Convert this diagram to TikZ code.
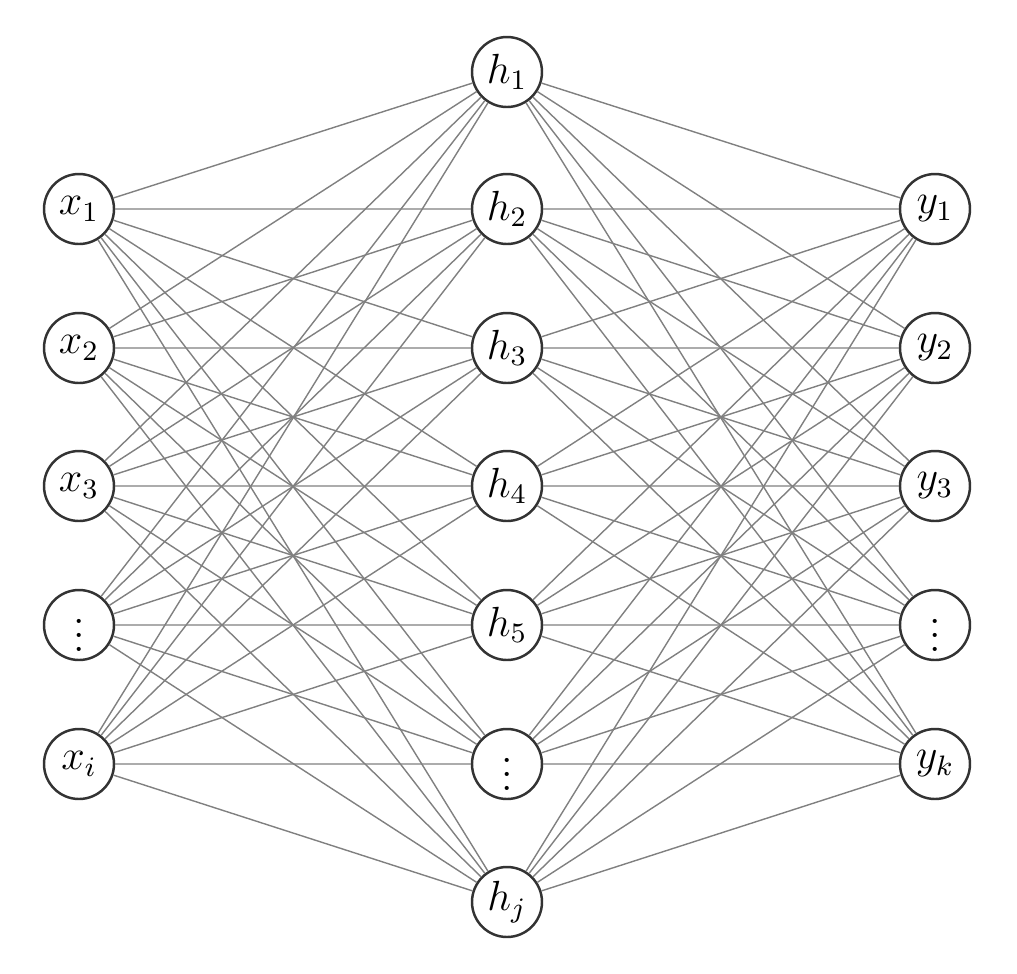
\documentclass[tikz,border=0pt]{standalone}
\tikzset{
  neuron/.style={circle, fill=white, draw=black!80, line width=0.7pt, minimum size=7mm, inner sep=0pt, font=\large},
  link/.style={draw=black!50, line width=0.4pt}
}
\begin{document}
\begin{tikzpicture}[x=0.1mm,y=-0.1mm]
\useasboundingbox (0,0) rectangle (1017,974);
% input layer
\node [neuron] (x1) at (79,209) {$x_1$};
\node [neuron] (x2) at (79,348) {$x_2$};
\node [neuron] (x3) at (79,486) {$x_3$};
\node [neuron] (x4) at (79,625) {$\vdots$};
\node [neuron] (x5) at (79,764) {$x_i$};
% hidden layer
\node [neuron] (h1) at (507,72) {$h_1$};
\node [neuron] (h2) at (507,209) {$h_2$};
\node [neuron] (h3) at (507,348) {$h_3$};
\node [neuron] (h4) at (507,486) {$h_4$};
\node [neuron] (h5) at (507,625) {$h_5$};
\node [neuron] (h6) at (507,764) {$\vdots$};
\node [neuron] (h7) at (507,902) {$h_j$};
% output layer
\node [neuron] (y1) at (935,209) {$y_1$};
\node [neuron] (y2) at (935,348) {$y_2$};
\node [neuron] (y3) at (935,486) {$y_3$};
\node [neuron] (y4) at (935,625) {$\vdots$};
\node [neuron] (y5) at (935,764) {$y_k$};
% input to hidden
\path [link] (x1) -- (h1) (x1) -- (h2) (x1) -- (h3) (x1) -- (h4) (x1) -- (h5) (x1) -- (h6) (x1) -- (h7);
\path [link] (x2) -- (h1) (x2) -- (h2) (x2) -- (h3) (x2) -- (h4) (x2) -- (h5) (x2) -- (h6) (x2) -- (h7);
\path [link] (x3) -- (h1) (x3) -- (h2) (x3) -- (h3) (x3) -- (h4) (x3) -- (h5) (x3) -- (h6) (x3) -- (h7);
\path [link] (x4) -- (h1) (x4) -- (h2) (x4) -- (h3) (x4) -- (h4) (x4) -- (h5) (x4) -- (h6) (x4) -- (h7);
\path [link] (x5) -- (h1) (x5) -- (h2) (x5) -- (h3) (x5) -- (h4) (x5) -- (h5) (x5) -- (h6) (x5) -- (h7);
% hidden to output
\path [link] (h1) -- (y1) (h1) -- (y2) (h1) -- (y3) (h1) -- (y4) (h1) -- (y5);
\path [link] (h2) -- (y1) (h2) -- (y2) (h2) -- (y3) (h2) -- (y4) (h2) -- (y5);
\path [link] (h3) -- (y1) (h3) -- (y2) (h3) -- (y3) (h3) -- (y4) (h3) -- (y5);
\path [link] (h4) -- (y1) (h4) -- (y2) (h4) -- (y3) (h4) -- (y4) (h4) -- (y5);
\path [link] (h5) -- (y1) (h5) -- (y2) (h5) -- (y3) (h5) -- (y4) (h5) -- (y5);
\path [link] (h6) -- (y1) (h6) -- (y2) (h6) -- (y3) (h6) -- (y4) (h6) -- (y5);
\path [link] (h7) -- (y1) (h7) -- (y2) (h7) -- (y3) (h7) -- (y4) (h7) -- (y5);
\end{tikzpicture}
\end{document}
